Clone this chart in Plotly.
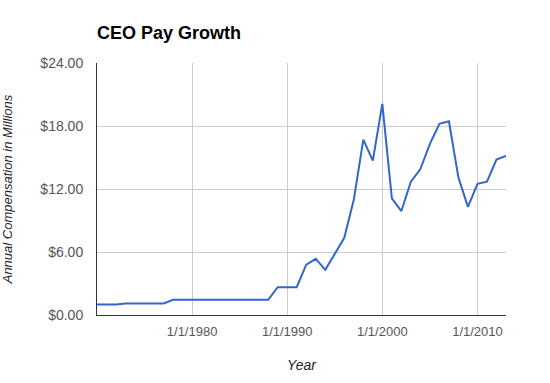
import plotly.graph_objects as go

years = list(range(1970, 2014))
pay_millions = [1.0, 1.0, 1.0, 1.1, 1.1, 1.1, 1.1, 1.1, 1.45, 1.45,
                1.45, 1.45, 1.45, 1.45, 1.45, 1.45, 1.45, 1.45, 1.45, 2.65,
                2.65, 2.65, 4.8, 5.35, 4.3, 5.8, 7.35, 11.0, 16.7, 14.7,
                20.1, 11.1, 9.9, 12.7, 13.9, 16.3, 18.2, 18.45, 13.1, 10.3,
                12.5, 12.7, 14.8, 15.15]
x_tick_years = [1980, 1990, 2000, 2010]
x_tick_labels = ["1/1/1980", "1/1/1990", "1/1/2000", "1/1/2010"]
y_ticks = [0, 6, 12, 18, 24]
y_tick_labels = ["$0.00", "$6.00", "$12.00", "$18.00", "$24.00"]

dates = [f"{y}-01-01" for y in years]
tick_dates = [f"{y}-01-01" for y in x_tick_years]

fig = go.Figure()
fig.add_trace(go.Scatter(x=dates, y=pay_millions, mode="lines",
                         line=dict(color="#3366cc", width=2), showlegend=False))

font_family = "Liberation Sans, Arial, sans-serif"
fig.update_layout(
    width=550, height=383,
    margin=dict(l=97, r=44, t=63, b=68, autoexpand=False),
    paper_bgcolor="white", plot_bgcolor="white",
    font=dict(family=font_family, size=13, color="#555555"),
    title=dict(text="<b>CEO Pay Growth</b>", x=97/550, xanchor="left",
               y=1-33/383, yanchor="middle",
               font=dict(size=18, color="#000000", family=font_family)),
    xaxis=dict(type="date", range=["1970-01-01", "2013-01-01"],
               tickvals=tick_dates, ticktext=x_tick_labels,
               showgrid=True, gridcolor="#cccccc", gridwidth=1,
               showline=True, linecolor="#333333", linewidth=1,
               ticks="", tickfont=dict(size=13, color="#555555"),
               ticklabelstandoff=4, automargin=False,
               title=dict(text="<i>Year</i>", font=dict(size=14, color="#222222"), standoff=22),
               zeroline=False),
    yaxis=dict(range=[0, 24], tickvals=y_ticks, ticktext=y_tick_labels,
               showgrid=True, gridcolor="#cccccc", gridwidth=1,
               showline=True, linecolor="#333333", linewidth=1,
               ticks="", tickfont=dict(size=14, color="#555555"),
               ticklabelstandoff=10, automargin=False,
               title=dict(text="<i>Annual Compensation in Millions</i>",
                          font=dict(size=13, color="#222222"), standoff=24),
               zeroline=False),
)

fig.write_html("out.html")
